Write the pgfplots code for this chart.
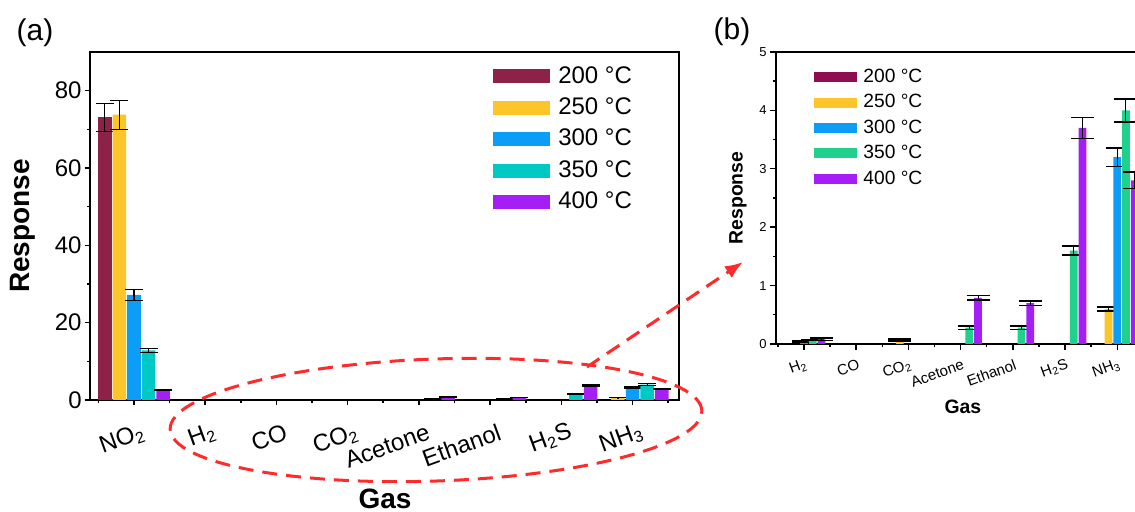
\documentclass[border=0pt]{standalone}
\usepackage{fontspec}
\setmainfont{Liberation Sans}
\usepackage{pgfplots}
\pgfplotsset{compat=1.18}
\usetikzlibrary{arrows.meta}

\definecolor{cA200}{HTML}{8C2248}
\definecolor{cB200}{HTML}{900C50}
\definecolor{c250}{HTML}{FCC52A}
\definecolor{c300}{HTML}{0C9DF7}
\definecolor{cA350}{HTML}{00C8C5}
\definecolor{cB350}{HTML}{1FD18C}
\definecolor{c400}{HTML}{A51FF5}
\definecolor{ered}{HTML}{FF2A2A}

\pgfplotsset{
  ebA/.style={error bars/.cd, y dir=both, y explicit,
    error bar style={draw=black, line width=0.6pt},
    error mark options={draw=black, line width=0.6pt, mark size=4.5pt, rotate=90}},
  ebB/.style={error bars/.cd, y dir=both, y explicit,
    error bar style={draw=black, line width=0.5pt},
    error mark options={draw=black, line width=0.8pt, mark size=5.75pt, rotate=90}},
}

\begin{document}
\begin{tikzpicture}
\useasboundingbox (0pt,0pt) rectangle (567.5pt,256pt);
\clip (0pt,0pt) rectangle (567.5pt,256pt);

% (a) all gases
\begin{axis}[
  at={(45pt,56pt)}, anchor=south west,
  scale only axis, width=294.5pt, height=174pt,
  ybar=0.53pt, bar width=0.19,
  xmin=-0.618, xmax=7.652, ymin=0, ymax=90,
  xtick={0,...,7},
  xticklabels={NO\textsubscript{2},H\textsubscript{2},CO,CO\textsubscript{2},Acetone,Ethanol,H\textsubscript{2}S,NH\textsubscript{3}},
  minor xtick={-0.5,0.5,...,7.5},
  ytick={0,20,40,60,80}, minor ytick={10,30,50,70},
  tick align=outside, tick pos=left,
  major tick length=2.5pt, minor tick length=1.5pt,
  axis line style={line width=1pt},
  every tick/.style={black, line width=0.8pt},
  /pgf/number format/assume math mode=true,
  y tick label style={font=\fontsize{12}{14}\selectfont, inner sep=1.5pt},
  x tick label style={font=\fontsize{12}{14}\selectfont, inner sep=0pt,
    xshift=5pt, yshift=-13pt, rotate=20, anchor=east},
  xlabel={Gas}, ylabel={Response},
  label style={font=\fontsize{14}{16}\selectfont\bfseries},
  ylabel style={at={(axis description cs:-0.114,0.5)}, anchor=center},
  xlabel style={at={(axis description cs:0.501,-0.284)}, anchor=center},
  legend style={at={(axis description cs:0.684,0.96)}, anchor=north west,
    draw=none, fill=none, inner sep=0pt,
    font=\fontsize{12}{14}\selectfont, row sep=5.85pt,
    nodes={inner sep=0pt},
    /tikz/every odd column/.append style={column sep=4pt}},
  legend cell align=left,
  legend image code/.code={\fill[#1] (0pt,-3.5pt) rectangle (28.5pt,3.5pt);},
]
\addplot[fill=cA200, draw=none, ebA]
  coordinates {(0,73.1) +- (0,3.6)};
\addplot[fill=c250, draw=none, ebA]
  coordinates {(0,73.8) +- (0,3.75) (3,0.07) +- (0,0.02) (7,0.6) +- (0,0.03)};
\addplot[fill=c300, draw=none, ebA]
  coordinates {(0,27.2) +- (0,1.4) (1,0.04) +- (0,0.01) (7,3.2) +- (0,0.16)};
\addplot[fill=cA350, draw=none, ebA]
  coordinates {(0,12.8) +- (0,0.6) (1,0.07) +- (0,0.01) (4,0.28) +- (0,0.03)
               (5,0.28) +- (0,0.03) (6,1.6) +- (0,0.08) (7,4.0) +- (0,0.2)};
\addplot[fill=c400, draw=none, ebA]
  coordinates {(0,2.6) +- (0,0.15) (1,0.08) +- (0,0.02) (4,0.79) +- (0,0.04)
               (5,0.7) +- (0,0.04) (6,3.7) +- (0,0.18) (7,2.8) +- (0,0.14)};
\legend{200 °C,250 °C,300 °C,350 °C,400 °C}
\end{axis}

% (b) zoom on the small responses
\begin{axis}[
  at={(388pt,84pt)}, anchor=south west,
  scale only axis, width=196.7pt, height=146pt,
  ybar=0.52pt, bar width=0.147,
  xmin=-0.536, xmax=7, ymin=0, ymax=5,
  xtick={0,...,6},
  xticklabels={H\textsubscript{2},CO,CO\textsubscript{2},Acetone,Ethanol,H\textsubscript{2}S,NH\textsubscript{3}},
  minor xtick={-0.5,0.5,...,6.5},
  ytick={0,...,5}, minor ytick={0.5,1.5,...,4.5},
  tick align=outside, tick pos=left,
  major tick length=3pt, minor tick length=1.5pt,
  axis line style={line width=0.75pt},
  every tick/.style={black, line width=0.7pt},
  /pgf/number format/assume math mode=true,
  y tick label style={font=\fontsize{6.5}{8}\selectfont, inner sep=1.5pt},
  x tick label style={font=\fontsize{7.5}{9}\selectfont, inner sep=0pt,
    xshift=1.5pt, yshift=-7pt, rotate=20, anchor=east},
  xlabel={Gas}, ylabel={Response},
  label style={font=\fontsize{9.7}{11}\selectfont\bfseries},
  ylabel style={at={(axis description cs:-0.0966,0.5)}, anchor=center},
  xlabel style={at={(axis description cs:0.475,-0.216)}, anchor=center},
  legend style={at={(axis description cs:0.0966,0.943)}, anchor=north west,
    draw=none, fill=none, inner sep=0pt,
    font=\fontsize{9.6}{11}\selectfont, row sep=4.5pt,
    nodes={inner sep=0pt},
    /tikz/every odd column/.append style={column sep=3pt}},
  legend cell align=left,
  legend image code/.code={\fill[#1] (0pt,-2.5pt) rectangle (21.5pt,2.5pt);},
]
\addplot[fill=cB200, draw=none]
  coordinates {(0,0)};
\addplot[fill=c250, draw=none, ebB]
  coordinates {(2,0.07) +- (0,0.02) (6,0.6) +- (0,0.03)};
\addplot[fill=c300, draw=none, ebB]
  coordinates {(0,0.04) +- (0,0.01) (6,3.2) +- (0,0.16)};
\addplot[fill=cB350, draw=none, ebB]
  coordinates {(0,0.07) +- (0,0.01) (3,0.28) +- (0,0.03) (4,0.28) +- (0,0.03)
               (5,1.6) +- (0,0.08) (6,4.0) +- (0,0.2)};
\addplot[fill=c400, draw=none, ebB]
  coordinates {(0,0.08) +- (0,0.02) (3,0.79) +- (0,0.04) (4,0.7) +- (0,0.04)
               (5,3.7) +- (0,0.18) (6,2.8) +- (0,0.14)};
\legend{200 °C,250 °C,300 °C,350 °C,400 °C}
\end{axis}

% ellipse round the small responses and arrow to (b)
\draw[ered, line width=1.5pt, dash pattern=on 7.5pt off 4.5pt,
  rotate around={2:(218pt,46pt)}] (218pt,46pt) ellipse [x radius=133pt, y radius=30.5pt];
\draw[ered, line width=1.5pt, dash pattern=on 7.5pt off 4.5pt,
  -{Latex[length=9pt,width=7pt]}] (293.5pt,72.5pt) -- (371.5pt,125pt);

\node[font=\fontsize{15}{18}\selectfont] at (17.5pt,239.5pt) {(a)};
\node[font=\fontsize{15}{18}\selectfont] at (366pt,240pt) {(b)};
\end{tikzpicture}
\end{document}
